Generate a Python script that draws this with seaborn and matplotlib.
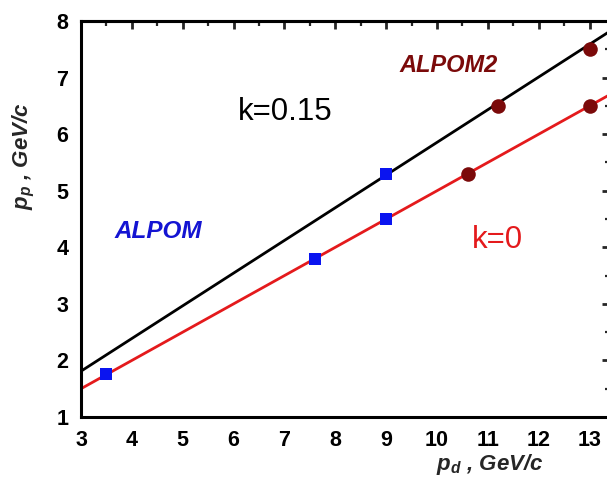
import matplotlib
matplotlib.use("Agg")
import matplotlib.pyplot as plt
from matplotlib.ticker import MultipleLocator
import seaborn as sns

# Measured points
alpom_pd = [3.5, 7.6, 9.0, 9.0]
alpom_pp = [1.76, 3.80, 4.50, 5.30]
alpom2_pd = [10.6, 11.2, 13.0, 13.0]
alpom2_pp = [5.30, 6.50, 6.50, 7.50]

# Kinematic lines for k=0 and k=0.15
line_pd = [3.0, 13.4]
k0_pp = [1.50, 6.70]
k015_pp = [1.81, 7.82]

x_ticks = [3, 4, 5, 6, 7, 8, 9, 10, 11, 12, 13]
y_ticks = [1, 2, 3, 4, 5, 6, 7, 8]

sns.set_theme(style="white")
plt.rcParams["font.family"] = ["Liberation Sans", "DejaVu Sans"]
plt.rcParams["mathtext.fontset"] = "custom"
plt.rcParams["mathtext.it"] = "Liberation Sans:italic:bold"
plt.rcParams["mathtext.rm"] = "Liberation Sans:bold"

W, H = 607, 479
fig = plt.figure(figsize=(W / 100, H / 100), dpi=100)
ax = fig.add_axes([81 / W, (H - 417) / H, 529 / W, 396 / H])

red = "#e41a1c"
dark_red = "#7b0a0a"
blue = "#0a14f0"

sns.lineplot(x=line_pd, y=k015_pp, color="black", lw=2.0, ax=ax)
sns.lineplot(x=line_pd, y=k0_pp, color=red, lw=2.0, ax=ax)
sns.scatterplot(x=alpom_pd, y=alpom_pp, marker="s", s=75, color=blue,
                edgecolor=blue, linewidth=0, ax=ax, zorder=5)
sns.scatterplot(x=alpom2_pd, y=alpom2_pp, marker="o", s=110, color=dark_red,
                edgecolor=dark_red, linewidth=0, ax=ax, zorder=5)

ax.set_xlim(3, 13.4)
ax.set_ylim(1, 8)
ax.set_xticks(x_ticks)
ax.set_yticks(y_ticks)
ax.xaxis.set_minor_locator(MultipleLocator(0.5))
ax.yaxis.set_minor_locator(MultipleLocator(0.5))

for sp in ax.spines.values():
    sp.set_linewidth(2.2)
    sp.set_color("black")

ax.tick_params(which="major", direction="out", length=6, width=2.0,
               labelsize=15.5, pad=3, colors="black")
ax.tick_params(which="minor", direction="out", length=3.5, width=1.6)
ax.tick_params(axis="x", which="major", pad=3)
for lab in ax.get_xticklabels() + ax.get_yticklabels():
    lab.set_fontweight("bold")

# Inward ticks on the top and right edges
top = ax.secondary_xaxis("top")
top.set_xticks(x_ticks)
top.xaxis.set_minor_locator(MultipleLocator(0.5))
top.tick_params(which="major", direction="in", length=6, width=2.0, labeltop=False)
top.tick_params(which="minor", direction="in", length=3.5, width=1.6)
top.spines["top"].set_linewidth(2.2)
right = ax.secondary_yaxis("right")
right.set_yticks(y_ticks)
right.yaxis.set_minor_locator(MultipleLocator(0.5))
right.tick_params(which="major", direction="in", length=6, width=2.0, labelright=False)
right.tick_params(which="minor", direction="in", length=3.5, width=1.6)
right.spines["right"].set_linewidth(2.2)

ax.set_xlabel("")
ax.set_ylabel("")
fig.text(490 / W, 2 / H, r"$p_{d}$ , GeV/c", fontsize=16, fontweight="bold",
         fontstyle="italic", ha="center", va="bottom")
fig.text(24 / W, 1 - 156 / H, r"$p_{p}$ , GeV/c", fontsize=16, fontweight="bold",
         fontstyle="italic", ha="center", va="center", rotation=90)

ax.text(6.08, 6.40, "k=0.15", fontsize=22.5, color="black", ha="left", va="center")
ax.text(10.68, 4.12, "k=0", fontsize=22.5, color=red, ha="left", va="center")
ax.text(3.66, 4.28, "ALPOM", fontsize=17.5, fontweight="bold", fontstyle="italic",
        color="#1414d2", ha="left", va="center")
ax.text(9.27, 7.22, "ALPOM2", fontsize=17, fontweight="bold", fontstyle="italic",
        color=dark_red, ha="left", va="center")

fig.savefig("out.png", dpi=100)
